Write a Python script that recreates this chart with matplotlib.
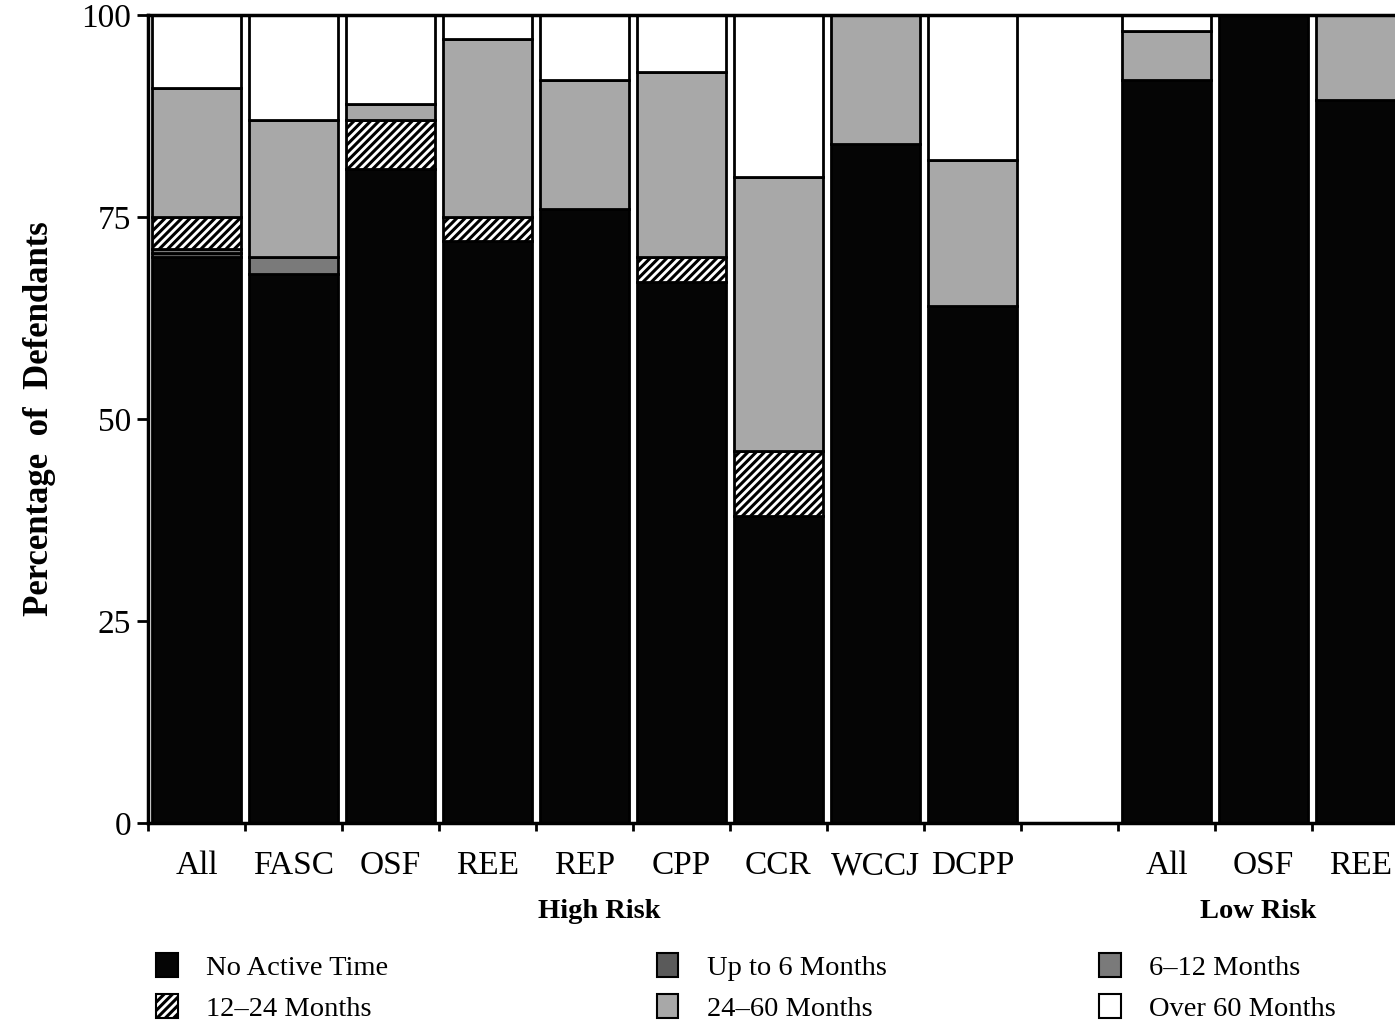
import numpy as np
import matplotlib
matplotlib.use('Agg')
import matplotlib.pyplot as plt
from matplotlib.patches import Patch

plt.rcParams['font.family'] = ['Liberation Serif', 'DejaVu Serif']
plt.rcParams['hatch.linewidth'] = 2.2

# Dados (porcentagem de réus por tempo ativo)
labels = ['All', 'FASC', 'OSF', 'REE', 'REP', 'CPP', 'CCR', 'WCCJ', 'DCPP', 'All', 'OSF', 'REE']
grupo = ['High Risk'] * 9 + ['Low Risk'] * 3
no_active = [70, 68, 81, 72, 76, 67, 38, 84, 64, 92, 100, 89.5]
up_to_6 = [0.5, 0, 0, 0, 0, 0, 0, 0, 0, 0, 0, 0]
m6_12 = [0.5, 2, 0, 0, 0, 0, 0, 0, 0, 0, 0, 0]
m12_24 = [4, 0, 6, 3, 0, 3, 8, 0, 0, 0, 0, 0]
m24_60 = [16, 17, 2, 22, 16, 23, 34, 16, 18, 6, 0, 10.5]
over_60 = [9, 13, 11, 3, 8, 7, 20, 0, 18, 2, 0, 0]

series = [
    ('No Active Time', no_active, '#050505', None),
    ('Up to 6 Months', up_to_6, '#5a5a5a', None),
    ('6\u201312 Months', m6_12, '#7a7a7a', None),
    ('12\u201324 Months', m12_24, 'white', '////'),
    ('24\u201360 Months', m24_60, '#a8a8a8', None),
    ('Over 60 Months', over_60, 'white', None),
]

# posições: 9 barras de alto risco, um espaço vazio, 3 de baixo risco
x = np.array([i + 0.5 if g == 'High Risk' else i + 1.5 for i, g in enumerate(grupo)])

fig = plt.figure(figsize=(13.95, 10.23), dpi=100)
ax = fig.add_axes([148 / 1395, 200 / 1023, 1261 / 1395, 808 / 1023])

bottom = np.zeros(len(labels))
for nome, vals, cor, hatch in series:
    vals = np.array(vals, dtype=float)
    ax.bar(x, vals, width=0.91, bottom=bottom, color=cor, edgecolor='black',
           linewidth=2, hatch=hatch, label=nome)
    bottom += vals

ax.set_xlim(0, 13)
ax.set_ylim(0, 100)
ax.set_yticks([0, 25, 50, 75, 100])
ax.set_xticks(x)
ax.set_xticklabels(labels, fontsize=24)
ax.set_xticks(np.arange(0, 14), minor=True)
ax.tick_params(axis='x', which='major', length=0, pad=20)
ax.tick_params(axis='x', which='minor', length=6, width=2, direction='out')
ax.tick_params(axis='y', labelsize=24, length=8, width=2, direction='out', pad=4)
for s in ['left', 'bottom', 'top']:
    ax.spines[s].set_linewidth(2.5)
ax.spines['right'].set_visible(False)

ax.set_ylabel('Percentage  of  Defendants', fontsize=25, fontweight='bold', labelpad=18)

trans = ax.get_xaxis_transform()
ax.text(4.65, -0.11, 'High Risk', transform=trans, ha='center', va='center',
        fontsize=20.5, fontweight='bold')
ax.text(11.45, -0.11, 'Low Risk', transform=trans, ha='center', va='center',
        fontsize=20.5, fontweight='bold')

# legenda em três colunas separadas
handles = []
for nome, vals, cor, hatch in series:
    handles.append(Patch(facecolor=cor, edgecolor='black', linewidth=1.5, hatch=hatch, label=nome))

ordem = [(0, 3), (1, 4), (2, 5)]
posx = [0.112, 0.471, 0.788]
for (a, b), px in zip(ordem, posx):
    leg = fig.legend([handles[a], handles[b]], [series[a][0], series[b][0]],
                     loc='upper left', bbox_to_anchor=(px, 0.068), frameon=False,
                     fontsize=20.5, handlelength=0.75, handleheight=0.9, handletextpad=1.0,
                     labelspacing=0.45, borderaxespad=0, borderpad=0)

fig.savefig('out.png', dpi=100)
